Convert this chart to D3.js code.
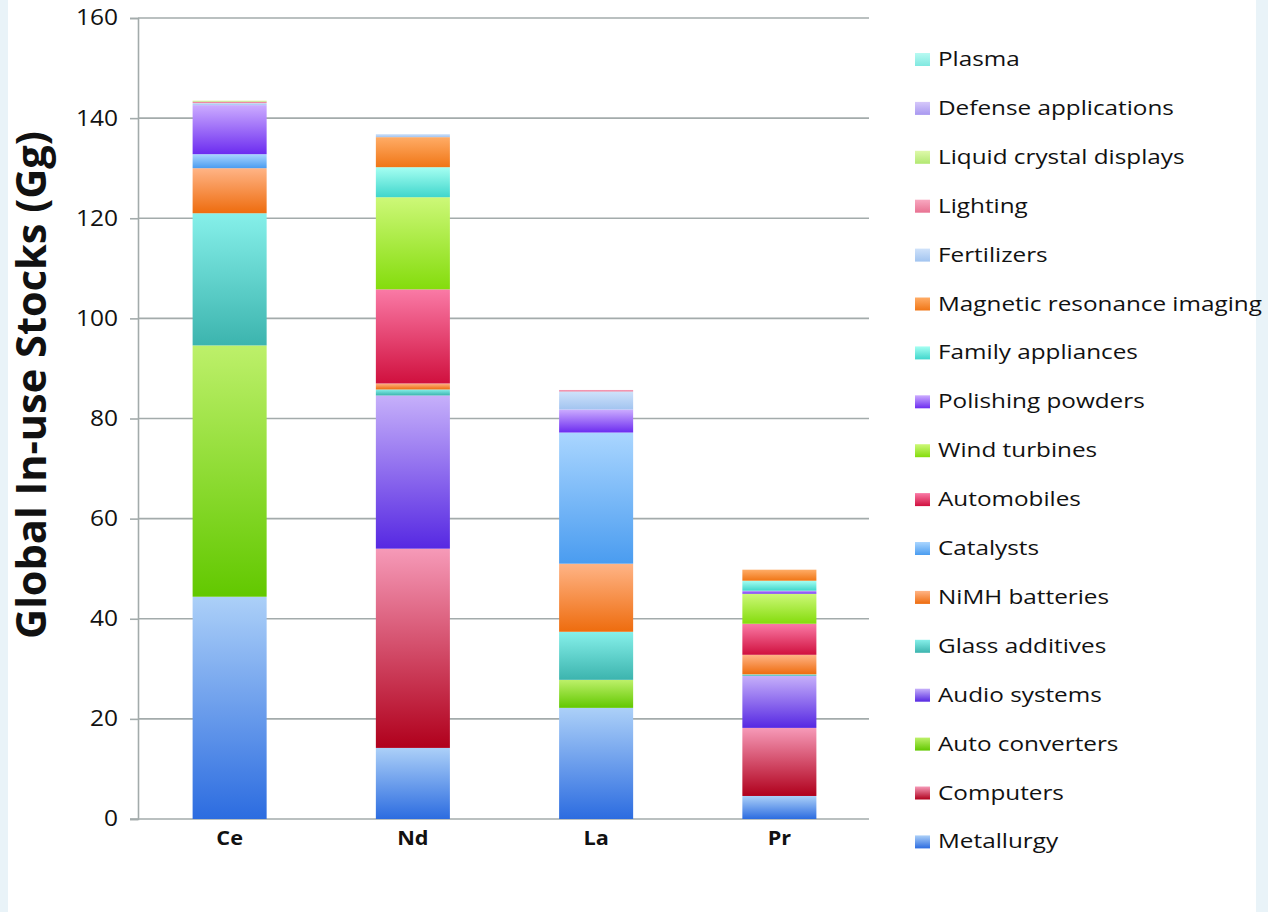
<!DOCTYPE html>
<html>
<head>
<meta charset="utf-8">
<script src="https://cdn.jsdelivr.net/npm/d3@7/dist/d3.min.js"></script>
<style>
  html, body { margin: 0; padding: 0; background: #e9f3f8; }
  svg { display: block; }
</style>
</head>
<body>
<svg id="chart" width="1268" height="912"></svg>
<script>
// Rare earth elements on the x axis
const categories = ["Ce", "Nd", "La", "Pr"];

// End uses, stacked from the bottom of each bar upwards
const series = [
  "Metallurgy", "Computers", "Auto converters", "Audio systems",
  "Glass additives", "NiMH batteries", "Catalysts", "Automobiles",
  "Wind turbines", "Polishing powders", "Family appliances",
  "Magnetic resonance imaging", "Fertilizers", "Lighting",
  "Liquid crystal displays", "Defense applications", "Plasma"
];

// In-use stocks (Gg) per end use, same order as `series`
const ceValues = [44.4, 0, 50.2, 0, 26.4, 9.0, 2.8, 0, 0, 9.8, 0, 0, 0.4, 0.3, 0.2, 0, 0];
const ndValues = [14.2, 39.8, 0, 30.6, 1.2, 1.2, 0, 18.8, 18.4, 0, 6.0, 6.0, 0.6, 0, 0, 0, 0];
const laValues = [22.2, 0, 5.6, 0, 9.6, 13.6, 26.2, 0, 0, 4.6, 0, 0, 3.6, 0.3, 0, 0, 0];
const prValues = [4.6, 13.6, 0, 10.4, 0.3, 3.9, 0, 6.2, 6.0, 0.6, 2.0, 2.2, 0, 0, 0, 0, 0];

const yTicks = [0, 20, 40, 60, 80, 100, 120, 140, 160];

// Gradient stops (top, bottom) for each end use
const gradientColors = [
  ["#acd0f8", "#2c6ce0"],  // Metallurgy
  ["#f69ab8", "#b0001c"],  // Computers
  ["#bdf06a", "#62c800"],  // Auto converters
  ["#c6b0fa", "#5628e2"],  // Audio systems
  ["#86f0ea", "#3cb4ae"],  // Glass additives
  ["#ffb486", "#ee6c0e"],  // NiMH batteries
  ["#aad6ff", "#4a9cf0"],  // Catalysts
  ["#fa7aa6", "#d0103e"],  // Automobiles
  ["#cdf878", "#84dc0c"],  // Wind turbines
  ["#ccacff", "#6c2cf0"],  // Polishing powders
  ["#a6fff2", "#40d6cc"],  // Family appliances
  ["#ffac66", "#f07616"],  // Magnetic resonance imaging
  ["#cfe2fa", "#a2c4f0"],  // Fertilizers
  ["#f8a8c0", "#e87292"],  // Lighting
  ["#def9aa", "#b2e872"],  // Liquid crystal displays
  ["#d6c8fa", "#a898f0"],  // Defense applications
  ["#b8faf2", "#80e8e0"]   // Plasma
];

const FONT = "'Open Sans', Lato, sans-serif";
const STRETCH = 1.14;   // text is drawn slightly wide

const valuesByCategory = [ceValues, ndValues, laValues, prValues];
const table = categories.map((c, i) => {
  const row = { category: c };
  series.forEach((s, j) => { row[s] = valuesByCategory[i][j]; });
  return row;
});

const svg = d3.select("#chart");

// White page panel with a faint blue margin
svg.append("rect").attr("x", 0).attr("y", 0).attr("width", 1268).attr("height", 912).attr("fill", "#e9f3f8");
svg.append("rect").attr("x", 8).attr("y", 0).attr("width", 1248).attr("height", 912).attr("fill", "#ffffff");

const plot = { left: 138, right: 869, top: 18, bottom: 819 };

const x = d3.scaleBand()
  .domain(categories)
  .range([plot.left, plot.right + 2])
  .paddingInner(0.596)
  .paddingOuter(0.298);

const y = d3.scaleLinear()
  .domain([0, 160])
  .range([plot.bottom, plot.top]);

// Gradients
const defs = svg.append("defs");
series.forEach((s, i) => {
  const g = defs.append("linearGradient")
    .attr("id", "grad" + i)
    .attr("x1", 0).attr("y1", 0).attr("x2", 0).attr("y2", 1);
  g.append("stop").attr("offset", "0%").attr("stop-color", gradientColors[i][0]);
  g.append("stop").attr("offset", "100%").attr("stop-color", gradientColors[i][1]);
});

// Horizontal gridlines
svg.append("g")
  .selectAll("line")
  .data(yTicks.filter(t => t > 0))
  .join("line")
  .attr("x1", plot.left).attr("x2", plot.right)
  .attr("y1", d => y(d)).attr("y2", d => y(d))
  .attr("stroke", "#a3abab").attr("stroke-width", 1.6);

// Y axis
const yAxis = svg.append("g")
  .attr("transform", `translate(${plot.left},0)`)
  .call(d3.axisLeft(y).tickValues(yTicks).tickSize(8).tickPadding(11));
yAxis.select(".domain").attr("stroke", "#a3abab").attr("stroke-width", 1.6);
yAxis.selectAll(".tick line").attr("stroke", "#a3abab").attr("stroke-width", 1.6);
yAxis.selectAll(".tick text")
  .attr("x", -20 / STRETCH)
  .attr("transform", `scale(${STRETCH},1)`)
  .attr("font-family", FONT)
  .attr("font-size", 21.5)
  .attr("fill", "#111");

// X axis baseline
svg.append("line")
  .attr("x1", plot.left - 8).attr("x2", plot.right)
  .attr("y1", plot.bottom).attr("y2", plot.bottom)
  .attr("stroke", "#a3abab").attr("stroke-width", 1.6);

// Category labels
svg.append("g")
  .selectAll("text")
  .data(categories)
  .join("text")
  .attr("transform", d => `translate(${x(d) + x.bandwidth() / 2},845) scale(${STRETCH},1)`)
  .attr("text-anchor", "middle")
  .attr("font-family", FONT)
  .attr("font-weight", "bold")
  .attr("font-size", 19)
  .attr("fill", "#111")
  .text(d => d);

// Stacked bars
const stacked = d3.stack().keys(series)(table);
svg.append("g")
  .selectAll("g")
  .data(stacked)
  .join("g")
  .attr("fill", (d, i) => `url(#grad${i})`)
  .selectAll("rect")
  .data(d => d.filter(p => p[1] - p[0] > 0))
  .join("rect")
  .attr("x", d => x(d.data.category))
  .attr("width", x.bandwidth())
  .attr("y", d => y(d[1]))
  .attr("height", d => y(d[0]) - y(d[1]));

// Y axis title, sized to span the axis
const title = svg.append("text")
  .attr("text-anchor", "middle")
  .attr("font-family", FONT)
  .attr("font-weight", "bold")
  .attr("font-size", 26)
  .attr("fill", "#111")
  .text("Global In-use Stocks (Gg)");
const titleLen = title.node().getComputedTextLength();
const titleSize = 26 * 508 / titleLen;
title.attr("font-size", titleSize)
  .attr("transform", `translate(46,385) rotate(-90)`);

// Legend, top entry is the last series
const legendOrder = series.map((s, i) => i).reverse();
const legend = svg.append("g");
const rowStep = 48.9;
const legendTexts = [];
legendOrder.forEach((si, r) => {
  const cy = 59 + r * rowStep;
  legend.append("rect")
    .attr("x", 915).attr("y", cy - 6)
    .attr("width", 15).attr("height", 13)
    .attr("fill", `url(#grad${si})`);
  legendTexts.push(legend.append("text")
    .attr("transform", `translate(938,${cy + 7})`)
    .attr("font-family", FONT)
    .attr("font-size", 20.5)
    .attr("fill", "#111")
    .text(series[si]));
});
// Horizontal stretch so the longest entry reaches the right edge
const longest = d3.max(legendTexts, t => t.node().getComputedTextLength());
const legendStretch = 324 / longest;
legendTexts.forEach((t, r) => {
  const cy = 59 + r * rowStep;
  t.attr("transform", `translate(938,${cy + 7}) scale(${legendStretch},1)`);
});
</script>
</body>
</html>
